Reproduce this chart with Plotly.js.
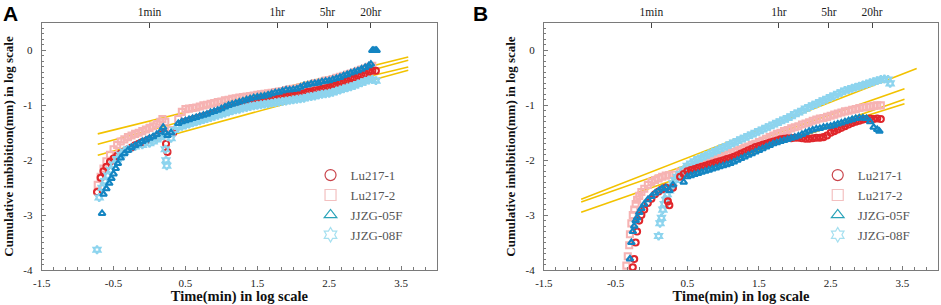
<!DOCTYPE html>
<html><head><meta charset="utf-8">
<script src="https://cdn.plot.ly/plotly-3.0.1.min.js"></script>
<style>html,body{margin:0;padding:0;background:#fff}#c{width:941px;height:305px}</style>
</head><body><div id="c"></div>
<script>
// ---------- Panel A data ----------
const aLu1X=[-0.73,-0.68,-0.64,-0.6,-0.55,-0.5,-0.45,-0.4,-0.35,-0.3,-0.25,-0.2,-0.15,-0.1,-0.05,0,0.05,0.1,0.15,0.2,0.23,0.25,0.33,0.45,0.5,0.55,0.6,0.65,0.7,0.75,0.8,0.85,0.9,0.95,1.0,1.05,1.1,1.15,1.2,1.25,1.3,1.35,1.4,1.45,1.5,1.55,1.6,1.65,1.7,1.75,1.8,1.85,1.9,1.95,2.0,2.05,2.1,2.15,2.2,2.25,2.3,2.35,2.4,2.45,2.5,2.55,2.6,2.65,2.7,2.75,2.8,2.85,2.9,2.95,3.0,3.05,3.1,3.15];
const aLu1Y=[-2.58,-2.32,-2.2,-2.12,-2.03,-1.97,-1.92,-1.88,-1.84,-1.8,-1.77,-1.73,-1.7,-1.67,-1.65,-1.62,-1.6,-1.57,-1.54,-1.5,-1.7,-1.85,-1.5,-1.33,-1.3,-1.28,-1.26,-1.24,-1.22,-1.2,-1.18,-1.16,-1.14,-1.12,-1.1,-1.08,-1.06,-1.04,-1.02,-1.0,-0.98,-0.96,-0.94,-0.92,-0.9,-0.89,-0.88,-0.87,-0.86,-0.85,-0.85,-0.84,-0.83,-0.82,-0.81,-0.8,-0.79,-0.78,-0.76,-0.75,-0.73,-0.72,-0.7,-0.69,-0.67,-0.65,-0.63,-0.6,-0.58,-0.55,-0.52,-0.5,-0.47,-0.45,-0.42,-0.39,-0.37,-0.37];
const aLu2X=[-0.72,-0.68,-0.64,-0.6,-0.55,-0.5,-0.45,-0.4,-0.35,-0.3,-0.25,-0.2,-0.15,-0.1,-0.05,0,0.05,0.1,0.15,0.18,0.22,0.3,0.4,0.45,0.5,0.55,0.6,0.65,0.7,0.75,0.8,0.85,0.9,0.95,1.0,1.05,1.1,1.15,1.2,1.25,1.3,1.35,1.4,1.45,1.5,1.55,1.6,1.65,1.7,1.75,1.8,1.85,1.9,1.95,2.0,2.05,2.1,2.15,2.2,2.25,2.3,2.35,2.4,2.45,2.5,2.55,2.6,2.65,2.7,2.75,2.8,2.85,2.9,2.95,3.0,3.05,3.1];
const aLu2Y=[-2.45,-2.3,-2.15,-2.02,-1.9,-1.8,-1.72,-1.66,-1.62,-1.58,-1.55,-1.52,-1.5,-1.47,-1.44,-1.41,-1.38,-1.34,-1.3,-1.25,-1.3,-1.45,-1.25,-1.12,-1.07,-1.06,-1.05,-1.04,-1.02,-1.0,-0.99,-0.97,-0.96,-0.94,-0.93,-0.91,-0.9,-0.88,-0.87,-0.86,-0.85,-0.84,-0.83,-0.82,-0.81,-0.8,-0.79,-0.78,-0.77,-0.76,-0.75,-0.74,-0.72,-0.71,-0.7,-0.69,-0.67,-0.66,-0.64,-0.62,-0.6,-0.59,-0.57,-0.55,-0.54,-0.52,-0.5,-0.48,-0.46,-0.44,-0.42,-0.4,-0.37,-0.35,-0.33,-0.3,-0.28];
const aJ5X=[-0.66,-0.64,-0.6,-0.56,-0.53,-0.5,-0.47,-0.44,-0.4,-0.35,-0.3,-0.25,-0.2,-0.15,-0.1,-0.05,0,0.05,0.1,0.15,0.19,0.22,0.25,0.3,0.4,0.45,0.5,0.55,0.6,0.65,0.7,0.75,0.8,0.85,0.9,0.95,1.0,1.05,1.1,1.15,1.2,1.25,1.3,1.35,1.4,1.45,1.5,1.55,1.6,1.65,1.7,1.75,1.8,1.85,1.9,1.95,2.0,2.05,2.1,2.15,2.2,2.25,2.3,2.35,2.4,2.45,2.5,2.55,2.6,2.65,2.7,2.75,2.8,2.85,2.9,2.95,3.0,3.05,3.08,3.1,3.12,3.14,3.16];
const aJ5Y=[-2.97,-2.62,-2.52,-2.42,-2.33,-2.25,-2.15,-2.06,-1.96,-1.88,-1.82,-1.77,-1.73,-1.7,-1.66,-1.63,-1.6,-1.57,-1.53,-1.48,-1.4,-1.5,-1.55,-1.5,-1.33,-1.3,-1.28,-1.26,-1.24,-1.22,-1.2,-1.18,-1.16,-1.13,-1.11,-1.09,-1.06,-1.03,-1.0,-0.98,-0.96,-0.94,-0.92,-0.9,-0.88,-0.86,-0.85,-0.84,-0.83,-0.81,-0.79,-0.77,-0.76,-0.74,-0.72,-0.72,-0.71,-0.7,-0.67,-0.64,-0.63,-0.61,-0.6,-0.59,-0.57,-0.56,-0.55,-0.53,-0.51,-0.49,-0.46,-0.44,-0.41,-0.39,-0.37,-0.34,-0.31,-0.28,-0.25,0.0,0.0,0.0,0.0];
const aJ8X=[-0.73,-0.7,-0.66,-0.62,-0.58,-0.54,-0.5,-0.45,-0.4,-0.35,-0.3,-0.2,-0.1,0,0.05,0.1,0.15,0.2,0.22,0.23,0.24,0.3,0.35,0.4,0.45,0.5,0.55,0.6,0.65,0.7,0.75,0.8,0.85,0.9,0.95,1.0,1.05,1.1,1.15,1.2,1.25,1.3,1.35,1.4,1.45,1.5,1.55,1.6,1.65,1.7,1.75,1.8,1.85,1.9,1.95,2.0,2.05,2.1,2.15,2.2,2.25,2.3,2.35,2.4,2.45,2.5,2.55,2.6,2.65,2.7,2.75,2.8,2.85,2.9,2.95,3.0,3.05,3.1,3.15];
const aJ8Y=[-3.63,-2.68,-2.5,-2.38,-2.28,-2.18,-2.08,-1.98,-1.9,-1.84,-1.8,-1.75,-1.72,-1.69,-1.66,-1.62,-1.58,-1.55,-1.8,-2.0,-2.1,-1.6,-1.45,-1.4,-1.38,-1.36,-1.34,-1.32,-1.3,-1.28,-1.26,-1.24,-1.22,-1.2,-1.18,-1.16,-1.14,-1.12,-1.1,-1.08,-1.07,-1.05,-1.04,-1.02,-1.01,-1.0,-0.99,-0.98,-0.97,-0.96,-0.95,-0.94,-0.93,-0.92,-0.91,-0.9,-0.89,-0.88,-0.87,-0.85,-0.84,-0.83,-0.81,-0.8,-0.79,-0.78,-0.76,-0.74,-0.72,-0.7,-0.68,-0.66,-0.64,-0.61,-0.59,-0.56,-0.54,-0.53,-0.55];
// fitted lines A: start/end points
const aFitX0=[-0.72,-0.72,-0.72,0.9];
const aFitY0=[-1.52,-1.71,-1.91,-1.15];
const aFitX1=[3.6,3.6,3.6,3.6];
const aFitY1=[-0.12,-0.18,-0.36,-0.30];

// ---------- Panel B data ----------
const bLu1X=[-0.26,-0.24,-0.22,-0.2,-0.17,-0.14,-0.1,-0.05,0,0.05,0.1,0.15,0.2,0.23,0.25,0.3,0.4,0.45,0.5,0.55,0.6,0.65,0.7,0.75,0.8,0.85,0.9,0.95,1.0,1.05,1.1,1.15,1.2,1.25,1.3,1.35,1.4,1.45,1.5,1.55,1.6,1.65,1.7,1.75,1.8,1.85,1.9,1.95,2.0,2.05,2.1,2.15,2.2,2.25,2.3,2.35,2.4,2.45,2.5,2.55,2.6,2.65,2.7,2.75,2.8,2.85,2.9,2.95,3.0,3.05,3.1,3.15,3.2];
const bLu1Y=[-3.95,-3.8,-3.5,-3.3,-3.1,-3.0,-2.9,-2.78,-2.7,-2.62,-2.57,-2.53,-2.5,-2.75,-2.82,-2.5,-2.3,-2.25,-2.2,-2.18,-2.16,-2.14,-2.12,-2.1,-2.08,-2.06,-2.04,-2.02,-2.0,-1.98,-1.96,-1.94,-1.91,-1.88,-1.85,-1.82,-1.79,-1.76,-1.74,-1.72,-1.7,-1.68,-1.66,-1.64,-1.62,-1.61,-1.6,-1.6,-1.59,-1.59,-1.6,-1.61,-1.61,-1.6,-1.59,-1.59,-1.58,-1.55,-1.5,-1.47,-1.44,-1.41,-1.38,-1.35,-1.32,-1.3,-1.28,-1.26,-1.25,-1.24,-1.25,-1.24,-1.25];
const bLu2X=[-0.35,-0.33,-0.31,-0.3,-0.28,-0.26,-0.24,-0.22,-0.2,-0.17,-0.14,-0.1,-0.05,0,0.05,0.1,0.15,0.2,0.25,0.3,0.4,0.45,0.5,0.55,0.6,0.65,0.7,0.75,0.8,0.85,0.9,0.95,1.0,1.05,1.1,1.15,1.2,1.25,1.3,1.35,1.4,1.45,1.5,1.55,1.6,1.65,1.7,1.75,1.8,1.85,1.9,1.95,2.0,2.05,2.1,2.15,2.2,2.25,2.3,2.35,2.4,2.45,2.5,2.55,2.6,2.65,2.7,2.75,2.8,2.85,2.9,2.95,3.0,3.05,3.1,3.15,3.2];
const bLu2Y=[-3.92,-3.75,-3.55,-3.35,-3.15,-3.0,-2.9,-2.8,-2.72,-2.65,-2.58,-2.52,-2.45,-2.4,-2.36,-2.33,-2.3,-2.28,-2.27,-2.26,-2.22,-2.2,-2.17,-2.15,-2.13,-2.1,-2.08,-2.05,-2.03,-2.0,-1.98,-1.95,-1.93,-1.9,-1.87,-1.85,-1.82,-1.8,-1.77,-1.75,-1.72,-1.7,-1.67,-1.64,-1.61,-1.58,-1.55,-1.52,-1.5,-1.47,-1.45,-1.42,-1.4,-1.38,-1.35,-1.33,-1.31,-1.28,-1.26,-1.24,-1.23,-1.21,-1.19,-1.17,-1.15,-1.13,-1.11,-1.1,-1.08,-1.07,-1.05,-1.04,-1.03,-1.02,-1.01,-1.0,-1.0];
const bJ5X=[-0.3,-0.28,-0.26,-0.24,-0.22,-0.2,-0.17,-0.14,-0.1,-0.05,0,0.05,0.1,0.15,0.2,0.25,0.3,0.45,0.5,0.55,0.6,0.65,0.7,0.75,0.8,0.85,0.9,0.95,1.0,1.05,1.1,1.15,1.2,1.25,1.3,1.35,1.4,1.45,1.5,1.55,1.6,1.65,1.7,1.75,1.8,1.85,1.9,1.95,2.0,2.05,2.1,2.15,2.2,2.25,2.3,2.35,2.4,2.45,2.5,2.55,2.6,2.65,2.7,2.75,2.8,2.85,2.9,2.95,3.0,3.05,3.1,3.15,3.18];
const bJ5Y=[-3.8,-3.5,-3.3,-3.2,-3.1,-3.05,-2.95,-2.88,-2.8,-2.72,-2.66,-2.6,-2.56,-2.52,-2.5,-2.55,-2.45,-2.4,-2.3,-2.28,-2.26,-2.24,-2.22,-2.2,-2.18,-2.16,-2.14,-2.12,-2.1,-2.08,-2.06,-2.03,-2.0,-1.97,-1.94,-1.91,-1.88,-1.85,-1.82,-1.79,-1.76,-1.73,-1.7,-1.68,-1.66,-1.64,-1.62,-1.6,-1.58,-1.56,-1.53,-1.5,-1.47,-1.45,-1.43,-1.42,-1.4,-1.39,-1.38,-1.36,-1.34,-1.32,-1.3,-1.28,-1.26,-1.24,-1.23,-1.23,-1.24,-1.3,-1.4,-1.44,-1.47];
const bJ8X=[0.1,0.12,0.14,0.16,0.18,0.2,0.22,0.25,0.28,0.3,0.33,0.36,0.4,0.45,0.5,0.55,0.6,0.65,0.7,0.75,0.8,0.85,0.9,0.95,1.0,1.05,1.1,1.15,1.2,1.25,1.3,1.35,1.4,1.45,1.5,1.55,1.6,1.65,1.7,1.75,1.8,1.85,1.9,1.95,2.0,2.05,2.1,2.15,2.2,2.25,2.3,2.35,2.4,2.45,2.5,2.55,2.6,2.65,2.7,2.75,2.8,2.85,2.9,2.95,3.0,3.05,3.1,3.15,3.2,3.25,3.3,3.33];
const bJ8Y=[-3.38,-3.15,-3.05,-2.9,-2.8,-2.72,-2.62,-2.55,-2.48,-2.42,-2.36,-2.3,-2.25,-2.17,-2.1,-2.06,-2.02,-1.98,-1.95,-1.92,-1.89,-1.86,-1.83,-1.8,-1.77,-1.74,-1.71,-1.68,-1.65,-1.62,-1.59,-1.56,-1.53,-1.5,-1.47,-1.44,-1.41,-1.38,-1.35,-1.32,-1.29,-1.26,-1.23,-1.2,-1.16,-1.13,-1.1,-1.06,-1.03,-1.0,-0.97,-0.94,-0.91,-0.88,-0.85,-0.82,-0.79,-0.76,-0.73,-0.71,-0.69,-0.67,-0.65,-0.63,-0.61,-0.59,-0.57,-0.55,-0.53,-0.52,-0.53,-0.6];
const bFitX0=[-0.98,-0.98,-0.98,0.3];
const bFitY0=[-2.71,-2.76,-2.95,-2.3];
const bFitX1=[3.7,3.53,3.53,3.53];
const bFitY1=[-0.33,-0.70,-0.89,-0.97];

// ---------- axis labels ----------
const xTickVals=[-1.5,-0.5,0.5,1.5,2.5,3.5];
const xTickText=['-1.5','-0.5','0.5','1.5','2.5','3.5'];
const yTickVals=[-4,-3,-2,-1,0];
const yTickText=['-4','-3','-2','-1','0'];
const topTickVals=[0,1.778,2.477,3.079];
const topTickText=['1min','1hr','5hr','20hr'];
const seriesNames=['Lu217-1','Lu217-2','JJZG-05F','JJZG-08F'];

const serif="Liberation Serif, Times New Roman, serif";
const colors=['#e0262b','#f6b3b3','#1485c2','#8dd4ee'];
const symbols=['circle-open','square-open','triangle-up-open','hexagram-open'];
const legColors=['#c9444b','#f3c0c0','#2aa3b9','#a6e0f0'];
const fitColor='#f2c200';

const traces=[];
function addFits(X0,Y0,X1,Y1,xa,ya){
  for(let i=0;i<X0.length;i++){
    traces.push({x:[X0[i],X1[i]],y:[Y0[i],Y1[i]],xaxis:xa,yaxis:ya,mode:'lines',
      line:{color:fitColor,width:1.6},showlegend:false,hoverinfo:'skip'});
  }
}
// drawing order for each panel: indices into seriesNames
function addSeries(data,order,xa,ya){
  order.forEach(i=>{
    traces.push({x:data[i][0],y:data[i][1],xaxis:xa,yaxis:ya,mode:'markers',name:seriesNames[i],
      showlegend:false,hoverinfo:'skip',
      marker:{symbol:symbols[i],size:6,color:colors[i],line:{width:2.1,color:colors[i]}}});
  });
}
function addLegend(xa,ya,leg){
  seriesNames.forEach((n,i)=>{
    traces.push({x:[-1.4],y:[-10],xaxis:xa,yaxis:ya,mode:'markers',name:n,legend:leg,hoverinfo:'skip',
      marker:{symbol:symbols[i],size:11,color:legColors[i],line:{width:1.2,color:legColors[i]}}});
  });
}
addFits(aFitX0,aFitY0,aFitX1,aFitY1,'x','y');
addFits(bFitX0,bFitY0,bFitX1,bFitY1,'x2','y2');
addSeries([[aLu1X,aLu1Y],[aLu2X,aLu2Y],[aJ5X,aJ5Y],[aJ8X,aJ8Y]],[1,0,3,2],'x','y');
addSeries([[bLu1X,bLu1Y],[bLu2X,bLu2Y],[bJ5X,bJ5Y],[bJ8X,bJ8Y]],[1,3,0,2],'x2','y2');
addLegend('x','y','legend');
addLegend('x2','y2','legend2');

const axCol='#7a7a7a';
function xAx(dom,anchor){
  return {domain:dom,anchor:anchor,range:[-1.5,4.0],tickmode:'array',tickvals:xTickVals,ticktext:xTickText,
    ticks:'inside',ticklen:4,tickcolor:axCol,showline:true,mirror:true,linecolor:axCol,linewidth:1,
    showgrid:false,zeroline:false,tickfont:{family:serif,size:11,color:'#222'},ticklabelstandoff:3,
    minor:{tickmode:'linear',tick0:-1.5,dtick:1/6,ticks:'inside',ticklen:3,tickcolor:axCol,showgrid:false},
    title:{text:'<b>Time(min) in log scale</b>',font:{family:serif,size:14.5,color:'#111'},standoff:1},fixedrange:true};
}
function yAx(anchor){
  return {domain:[0.1148,0.9246],anchor:anchor,range:[-4,0.5],tickmode:'array',tickvals:yTickVals,ticktext:yTickText,
    ticks:'inside',ticklen:4,tickcolor:axCol,showline:true,mirror:true,linecolor:axCol,linewidth:1,
    showgrid:false,zeroline:false,tickfont:{family:serif,size:11,color:'#222'},ticklabelstandoff:6,
    minor:{tickmode:'linear',tick0:0,dtick:0.1,ticks:'inside',ticklen:2,tickcolor:axCol,showgrid:false},
    title:{text:'<b>Cumulative imbibition(mm) in log scale</b>',font:{family:serif,size:13,color:'#111'},standoff:6},fixedrange:true};
}
function topAx(over,anchor){
  return {overlaying:over,anchor:anchor,side:'top',range:[-1.5,4.0],tickmode:'array',tickvals:topTickVals,ticktext:topTickText,
    ticks:'inside',ticklen:5,tickcolor:'#444',showline:false,showgrid:false,zeroline:false,
    tickfont:{family:serif,size:11.5,color:'#222'},ticklabelstandoff:4,fixedrange:true};
}
// invisible traces to activate top axes
traces.push({x:[0],y:[-10],xaxis:'x3',yaxis:'y',mode:'markers',showlegend:false,hoverinfo:'skip',marker:{opacity:0}});
traces.push({x:[0],y:[-10],xaxis:'x4',yaxis:'y2',mode:'markers',showlegend:false,hoverinfo:'skip',marker:{opacity:0}});

const legFont={family:serif,size:13,color:'#555'};
const layout={
  width:941,height:305,margin:{l:0,r:0,t:0,b:0},paper_bgcolor:'#fff',plot_bgcolor:'#fff',
  showlegend:true,
  xaxis:xAx([0.0443,0.4644],'y'),
  yaxis:yAx('x'),
  xaxis2:xAx([0.578,0.997],'y2'),
  yaxis2:yAx('x2'),
  xaxis3:topAx('x','y'),
  xaxis4:topAx('x2','y2'),
  legend:{x:0.33,y:0.475,xanchor:'left',yanchor:'top',bgcolor:'rgba(0,0,0,0)',font:legFont,itemsizing:'trace',tracegroupgap:0,traceorder:'normal',itemwidth:30},
  legend2:{x:0.869,y:0.475,xanchor:'left',yanchor:'top',bgcolor:'rgba(0,0,0,0)',font:legFont,itemsizing:'trace',tracegroupgap:0,traceorder:'normal',itemwidth:30},
  annotations:[
    {text:'<b>A</b>',x:0.001,y:1.0,xref:'paper',yref:'paper',xanchor:'left',yanchor:'top',showarrow:false,font:{family:'Liberation Sans, Arial, sans-serif',size:21,color:'#000'}},
    {text:'<b>B</b>',x:0.5005,y:1.0,xref:'paper',yref:'paper',xanchor:'left',yanchor:'top',showarrow:false,font:{family:'Liberation Sans, Arial, sans-serif',size:21,color:'#000'}}
  ]
};
Plotly.newPlot('c',traces,layout,{staticPlot:true,displayModeBar:false});
</script></body></html>
